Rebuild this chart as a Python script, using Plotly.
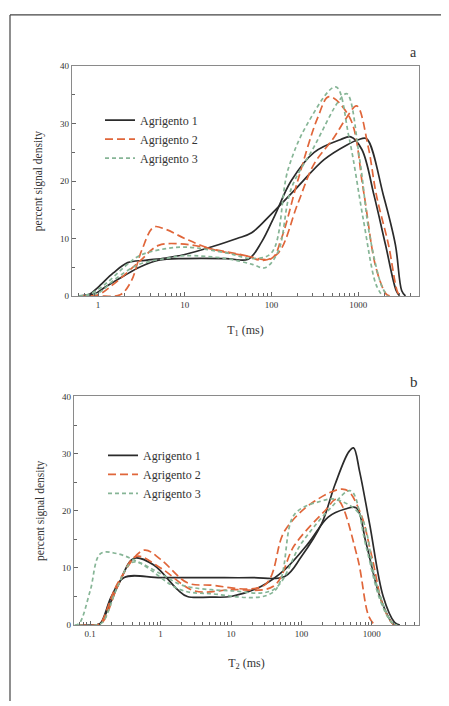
import plotly.graph_objects as go

# ---------------- data ----------------
# Panel a : T1 distributions
t1_ag1a_x = [0.6, 0.8, 1.0, 1.5, 2.2, 3.5, 6, 10, 21, 40, 59, 100, 200, 400, 740, 1000, 1240, 1950, 2680, 3170, 3500]
t1_ag1a_y = [0, 0.3, 1.5, 4.0, 5.8, 6.2, 6.6, 7.2, 8.6, 10.0, 11.0, 14.3, 19.0, 23.7, 26.3, 27.2, 27.4, 17.5, 8.9, 0.9, 0]
t1_ag1b_x = [0.6, 0.9, 1.2, 2.0, 3.0, 5.0, 10, 30, 54, 77, 109, 168, 310, 620, 820, 1100, 1520, 2060, 2740, 3000]
t1_ag1b_y = [0, 0.3, 1.5, 3.5, 5.0, 6.2, 6.5, 6.5, 6.4, 9.4, 14.0, 20.0, 25.0, 27.2, 27.7, 25.5, 17.5, 8.9, 0.9, 0]
t1_ag2a_x = [0.6, 1.0, 1.8, 2.4, 3.2, 4.4, 6, 10, 20, 50, 100, 130, 200, 340, 460, 800, 1140, 1600, 2100, 2300]
t1_ag2a_y = [0, 0, 0.2, 2.5, 8.0, 12.0, 11.6, 10.0, 8.2, 7.0, 6.5, 10.0, 20.0, 31.0, 34.7, 31.0, 18.6, 4.9, 0.3, 0]
t1_ag2b_x = [0.6, 1.0, 1.5, 3.0, 5.0, 10, 20, 50, 80, 120, 200, 310, 520, 730, 960, 1300, 1620, 2230, 2800, 3000]
t1_ag2b_y = [0, 0.2, 2.0, 6.0, 8.8, 9.0, 8.2, 7.0, 6.2, 7.5, 16.0, 23.0, 27.5, 31.0, 33.1, 26.0, 17.5, 8.9, 0.9, 0]
t1_ag3a_x = [0.6, 0.8, 1.2, 2.0, 3.0, 5.0, 10, 30, 60, 100, 155, 260, 550, 780, 1140, 1600, 1900]
t1_ag3a_y = [0, 0.3, 2.0, 5.0, 7.0, 8.0, 8.5, 7.5, 6.5, 7.5, 22.0, 30.0, 36.4, 27.7, 13.4, 2.0, 0]
t1_ag3b_x = [0.6, 1.0, 1.6, 3.0, 6.0, 10, 30, 60, 84, 119, 168, 310, 600, 740, 1040, 1350, 1900, 2200]
t1_ag3b_y = [0, 0.5, 3.0, 5.5, 6.5, 7.0, 6.5, 5.5, 4.9, 7.7, 18.6, 26.0, 34.0, 35.2, 23.7, 10.6, 1.4, 0]

# Panel b : T2 distributions
t2_ag1a_x = [0.07, 0.12, 0.14, 0.2, 0.3, 1.0, 5, 20, 58, 100, 193, 300, 470, 550, 670, 930, 1450, 2100, 2500]
t2_ag1a_y = [0, 0, 0.3, 5.0, 8.3, 8.3, 8.3, 8.3, 8.5, 12.0, 17.7, 24.6, 30.3, 31.0, 26.9, 17.7, 5.0, 0.5, 0]
t2_ag1b_x = [0.07, 0.12, 0.14, 0.25, 0.42, 0.8, 1.74, 2.4, 5, 10, 27, 58, 125, 240, 420, 600, 830, 1300, 2000, 2300]
t2_ag1b_y = [0, 0, 0.3, 7.0, 11.7, 10.5, 6.2, 5.0, 4.9, 5.0, 6.8, 9.7, 14.3, 18.9, 20.3, 20.5, 14.3, 5.0, 0.2, 0]
t2_ag2a_x = [0.07, 0.12, 0.14, 0.25, 0.58, 1.0, 2.4, 5, 30, 58, 155, 420, 670, 1000, 1450, 2000, 2300]
t2_ag2a_y = [0, 0, 0.3, 7.5, 13.1, 11.5, 7.4, 7.0, 7.0, 16.5, 21.7, 23.7, 20.0, 12.0, 3.3, 0.2, 0]
t2_ag2b_x = [0.07, 0.12, 0.15, 0.25, 0.45, 1.0, 3.0, 10, 40, 80, 216, 320, 620, 900, 1100]
t2_ag2b_y = [0, 0, 0.5, 7.0, 12.0, 10.0, 6.0, 6.2, 6.8, 14.0, 20.0, 22.0, 12.0, 1.6, 0]
t2_ag3a_x = [0.06, 0.07, 0.1, 0.14, 0.24, 0.52, 1.9, 5, 40, 80, 193, 300, 670, 1150, 1800, 2200]
t2_ag3a_y = [0, 0.3, 6.0, 12.5, 12.5, 10.8, 6.2, 5.5, 5.8, 19.4, 21.7, 22.0, 19.4, 7.4, 1.0, 0]
t2_ag3b_x = [0.07, 0.12, 0.15, 0.25, 0.4, 1.0, 2.0, 10, 40, 100, 265, 500, 830, 1300, 1900, 2300]
t2_ag3b_y = [0, 0, 0.5, 7.0, 11.0, 9.0, 7.0, 6.0, 6.2, 14.3, 20.6, 23.5, 13.7, 4.5, 0.5, 0]

series_names = ["Agrigento 1", "Agrigento 2", "Agrigento 3"]
y_ticks = [0, 10, 20, 30, 40]
x1_ticks = [1, 10, 100, 1000]
x2_ticks = [0.1, 1, 10, 100, 1000]

# ---------------- styling ----------------
colors = ["#2b2b2b", "#e0663a", "#86b596"]
dashes = ["solid", "8px,4px", "4px,3px"]
FONT = "Liberation Serif, DejaVu Serif, serif"

# the page body adds an 8px margin; lay out in a 441x698 figure
W, H, OFF = 441, 698, 8


def px(x):
    return (x - OFF) / W


def py(y):
    return 1 - (y - OFF) / H


fig = go.Figure()

top = [(t1_ag1a_x, t1_ag1a_y), (t1_ag1b_x, t1_ag1b_y),
       (t1_ag2a_x, t1_ag2a_y), (t1_ag2b_x, t1_ag2b_y),
       (t1_ag3a_x, t1_ag3a_y), (t1_ag3b_x, t1_ag3b_y)]
bot = [(t2_ag1a_x, t2_ag1a_y), (t2_ag1b_x, t2_ag1b_y),
       (t2_ag2a_x, t2_ag2a_y), (t2_ag2b_x, t2_ag2b_y),
       (t2_ag3a_x, t2_ag3a_y), (t2_ag3b_x, t2_ag3b_y)]

for i, (xs, ys) in enumerate(top):
    s = i // 2
    fig.add_trace(go.Scatter(x=xs, y=ys, mode="lines", name=series_names[s],
                             legendgroup="a%d" % s, showlegend=(i % 2 == 0),
                             legend="legend",
                             line=dict(color=colors[s], dash=dashes[s], width=1.7, shape="spline", smoothing=1.0),
                             xaxis="x", yaxis="y"))
for i, (xs, ys) in enumerate(bot):
    s = i // 2
    fig.add_trace(go.Scatter(x=xs, y=ys, mode="lines", name=series_names[s],
                             legendgroup="b%d" % s, showlegend=(i % 2 == 0),
                             legend="legend2",
                             line=dict(color=colors[s], dash=dashes[s], width=1.7, shape="spline", smoothing=1.0),
                             xaxis="x2", yaxis="y2"))

axis_common = dict(showline=True, linecolor="#8a8a8a", linewidth=1.2, mirror=True,
                   showgrid=False, zeroline=False, ticks="inside", ticklen=4,
                   tickcolor="#666", tickfont=dict(family=FONT, size=9, color="#333"))

fig.update_layout(
    width=W, height=H,
    margin=dict(l=0, r=0, t=0, b=0),
    paper_bgcolor="white", plot_bgcolor="white",
    font=dict(family=FONT, color="#333"),
    xaxis=dict(type="log", domain=[px(72), px(419)], range=[-0.30, 3.70], anchor="y",
               tickvals=x1_ticks, ticktext=[str(v) for v in x1_ticks],
               minor=dict(ticks="inside", ticklen=3, tickcolor="#666",
                          tickvals=[v * m for v in [0.1, 1, 10, 100, 1000] for m in range(2, 10)]),
               title=dict(text="T<sub>1</sub> (ms)", font=dict(family=FONT, size=12), standoff=16),
               **axis_common),
    yaxis=dict(domain=[py(295), py(62)], range=[0, 40], anchor="x",
               tickvals=y_ticks, ticktext=[str(v) for v in y_ticks],
               minor=dict(ticks="inside", ticklen=3, tickcolor="#666", dtick=5),
               title=dict(text="percent signal density", font=dict(family=FONT, size=11.5), standoff=15),
               **axis_common),
    xaxis2=dict(type="log", domain=[px(74), px(419)], range=[-1.23, 3.67], anchor="y2",
                tickvals=x2_ticks, ticktext=[str(v) for v in x2_ticks],
                minor=dict(ticks="inside", ticklen=3, tickcolor="#666",
                           tickvals=[v * m for v in [0.01, 0.1, 1, 10, 100, 1000] for m in range(2, 10)]),
                title=dict(text="T<sub>2</sub> (ms)", font=dict(family=FONT, size=12), standoff=20),
                **axis_common),
    yaxis2=dict(domain=[py(629), py(397)], range=[0, 40], anchor="x2",
                tickvals=y_ticks, ticktext=[str(v) for v in y_ticks],
                minor=dict(ticks="inside", ticklen=3, tickcolor="#666", dtick=5),
                title=dict(text="percent signal density", font=dict(family=FONT, size=11.5), standoff=15),
                **axis_common),
    legend=dict(x=px(100), y=py(102), xanchor="left", yanchor="top",
                bgcolor="rgba(0,0,0,0)", font=dict(family=FONT, size=12, color="#333"),
                tracegroupgap=0, itemwidth=30),
    legend2=dict(x=px(103), y=py(442), xanchor="left", yanchor="top",
                 bgcolor="rgba(0,0,0,0)", font=dict(family=FONT, size=12, color="#333"),
                 tracegroupgap=0, itemwidth=30),
    annotations=[
        dict(text="a", x=px(413), y=py(48), xref="paper", yref="paper", yanchor="middle", xanchor="center",
             showarrow=False, font=dict(family=FONT, size=14, color="#333")),
        dict(text="b", x=px(414), y=py(382), xref="paper", yref="paper", yanchor="middle", xanchor="center",
             showarrow=False, font=dict(family=FONT, size=15, color="#333")),
    ],
    shapes=[
        dict(type="line", xref="paper", yref="paper", x0=px(10), x1=1, y0=py(10), y1=py(10),
             line=dict(color="#444", width=1.2)),
        dict(type="line", xref="paper", yref="paper", x0=px(10), x1=px(10), y0=0, y1=py(10),
             line=dict(color="#444", width=1.2)),
    ],
)

fig.write_html("out.html")
